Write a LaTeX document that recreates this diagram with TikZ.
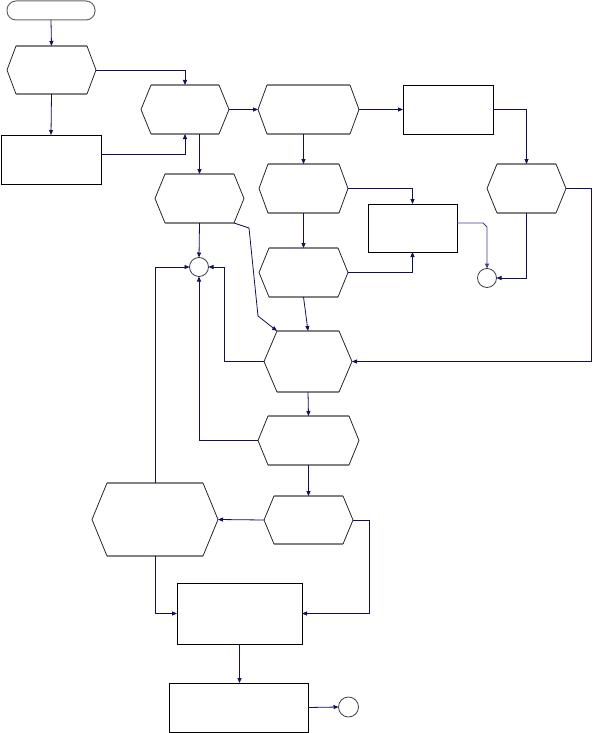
\documentclass[tikz,border=0pt]{standalone}
\usetikzlibrary{arrows.meta}
\definecolor{navy}{RGB}{16,16,96}
\definecolor{lnavy}{RGB}{60,60,150}
\definecolor{hgray}{RGB}{130,130,130}
\tikzset{
  box/.style={inner sep=0pt,outer sep=0pt,draw=none},
  rectbox/.style={inner sep=0pt,outer sep=0pt,draw=black,line width=0.8pt},
  termbox/.style={inner sep=0pt,outer sep=0pt,draw=black!60,line width=1pt,rounded corners=9pt},
  circ/.style={circle,inner sep=0pt,outer sep=0pt,draw=black!75,line width=0.8pt,minimum size=19pt},
  conn/.style={draw=navy,line width=0.8pt,-{Triangle[length=5pt,width=4pt]}},
  hexgray/.style={draw=hgray,line width=1.1pt},
  hexside/.style={draw=black!85,line width=0.8pt,line join=miter},
}
\newcommand{\hexdraw}[2]{%
  \draw[hexgray] ([xshift=#2]#1.north west) -- ([xshift=-#2]#1.north east);
  \draw[hexgray] ([xshift=#2]#1.south west) -- ([xshift=-#2]#1.south east);
  \draw[hexside] ([xshift=#2]#1.north west) -- (#1.west) -- ([xshift=#2]#1.south west);
  \draw[hexside] ([xshift=-#2]#1.north east) -- (#1.east) -- ([xshift=-#2]#1.south east);
}
\begin{document}
\begin{tikzpicture}[x=1pt,y=-1pt]
\useasboundingbox (0,0) rectangle (592,733);
% nodes
\node[termbox,minimum width=88pt,minimum height=19pt] (S) at (51,10.5) {};
\node[box,minimum width=89pt,minimum height=48pt] (A) at (51.5,70) {};
\node[rectbox,minimum width=100pt,minimum height=49pt] (B) at (51,159.5) {};
\node[box,minimum width=88pt,minimum height=49pt] (C) at (185,109.5) {};
\node[box,minimum width=101pt,minimum height=49pt] (D) at (308.5,109.5) {};
\node[rectbox,minimum width=90pt,minimum height=49pt] (E) at (448,109.5) {};
\node[box,minimum width=79pt,minimum height=49pt] (F) at (526.5,188.5) {};
\node[circ] (G) at (487,278) {};
\node[rectbox,minimum width=89pt,minimum height=48pt] (H) at (412.5,228) {};
\node[box,minimum width=89pt,minimum height=49pt] (C2) at (199.5,198.5) {};
\node[box,minimum width=89pt,minimum height=49pt] (D2) at (303.5,188.5) {};
\node[box,minimum width=89pt,minimum height=49pt] (D3) at (303.5,272.5) {};
\node[circ] (M) at (199,267) {};
\node[box,minimum width=88pt,minimum height=61pt] (J) at (308,361.5) {};
\node[box,minimum width=101pt,minimum height=49pt] (L) at (308.5,440.5) {};
\node[box,minimum width=126pt,minimum height=73pt] (K) at (155,519.5) {};
\node[box,minimum width=89pt,minimum height=48pt] (N) at (308.5,520) {};
\node[rectbox,minimum width=125pt,minimum height=61pt] (P) at (239.5,613.5) {};
\node[rectbox,minimum width=139pt,minimum height=49pt] (Q) at (238.5,707.5) {};
\node[circ,minimum size=20pt] (R) at (348.5,707) {};
% hexagon outlines
\hexdraw{A}{9pt}
\hexdraw{C}{10pt}
\hexdraw{D}{9pt}
\hexdraw{F}{10pt}
\hexdraw{C2}{10pt}
\hexdraw{D2}{9pt}
\hexdraw{D3}{10pt}
\hexdraw{J}{13pt}
\hexdraw{L}{10pt}
\hexdraw{K}{15pt}
\hexdraw{N}{10pt}
% connectors
\draw[conn] (S.south) -- (A.north);
\draw[conn] (A.south) -- (B.north);
\draw[conn] (A.east) -| (C.north);
\draw[conn] ([yshift=5pt]B.east) -| (C.south);
\draw[conn] (C.east) -- (D.west);
\draw[conn] (D.east) -- (E.west);
\draw[conn] (E.east) -| (F.north);
\draw[conn] (F.south) |- (G.east);
\draw[conn] (F.east) -- ++(25,0) |- (J.east);
\draw[conn] (C2.north |- C.south) -- (C2.north);
\draw[conn] (D2.north |- D.south) -- (D2.north);
\draw[conn] (D2.south) -- (D3.north);
\draw[conn] (D3.south) -- (J.north);
\draw[conn] (D2.east) -| (H.north);
\draw[conn] (D3.east) -| (H.south);
\draw[conn,draw=lnavy] ([yshift=5pt]H.east) -- ++(26,0) -- ++(4,4) -- (G.north);
\draw[conn] (C2.south) -- (M.north);
\draw[conn] ([xshift=-10pt]C2.south east) -- (249,228) -- (258,316) -- ([xshift=13pt]J.north west);
\draw[conn] (J.west) -- ++(-40,0) |- (M.east);
\draw[conn] (L.west) -| (M.south);
\draw[conn] (K.north) |- (M.west);
\draw[conn] (J.south) -- (L.north);
\draw[conn] (L.south) -- (N.north);
\draw[conn] (N.west) -- (K.east);
\draw[conn] (N.east) -- ++(16,0) |- (P.east);
\draw[conn] (K.south) |- (P.west);
\draw[conn] (P.south) -- (P.south |- Q.north);
\draw[conn] (Q.east) -- (R.west);
\end{tikzpicture}
\end{document}
